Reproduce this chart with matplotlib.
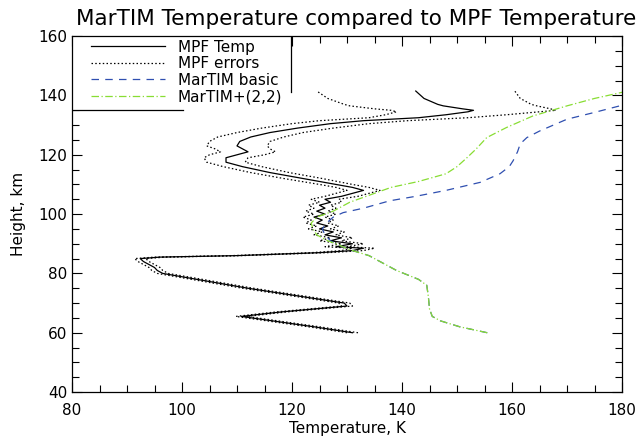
import numpy as np
import matplotlib
matplotlib.use("Agg")
import matplotlib.pyplot as plt
from matplotlib.patches import Rectangle
from matplotlib.lines import Line2D
from matplotlib.ticker import MultipleLocator

# MPF temperature profile (height km, temperature K) and its errors
mpf_h = [60.0, 62.0, 65.5, 67.0, 69.0, 70.0, 71.0, 75.0, 80.0, 81.0, 82.0, 83.0,
         84.0, 85.0, 85.5, 86.0, 87.0, 87.7, 88.5, 89.0, 90.0, 91.0, 92.0, 93.0,
         94.0, 95.0, 96.0, 97.0, 98.0, 99.0, 100.0, 101.0, 102.0, 103.0, 104.0,
         105.0, 106.0, 107.0, 108.0, 109.0, 110.0, 112.0, 114.0, 116.0, 117.5,
         119.0, 120.0, 121.0, 122.0, 123.0, 124.5, 126.0, 127.5, 129.0, 130.5,
         131.5, 132.5, 133.5, 134.5, 135.0, 135.5, 136.5, 137.0, 139.0, 141.5]
mpf_t = [131.0, 124.0, 110.8, 118.0, 130.0, 129.5, 126.0, 112.0, 96.5, 95.5, 95.0, 94.0,
         93.0, 92.4, 96.0, 110.0, 125.0, 131.0, 133.0, 128.0, 131.0, 127.0, 129.0, 126.0,
         127.5, 125.0, 126.5, 124.5, 125.5, 124.0, 126.0, 124.5, 126.0, 125.0, 127.0,
         126.0, 129.0, 131.0, 133.0, 131.0, 128.0, 122.0, 116.0, 111.0, 108.0,
         108.0, 110.0, 112.0, 111.0, 110.0, 110.5, 112.5, 116.0, 121.0, 127.0,
         133.0, 143.0, 148.0, 152.0, 153.0, 151.0, 147.5, 146.5, 144.0, 142.5]
mpf_err = [1.0, 1.0, 1.0, 1.0, 1.0, 1.0, 1.0, 1.0, 1.0, 1.0, 1.0, 1.0,
           1.0, 1.0, 1.0, 1.0, 1.5, 2.0, 2.0, 2.0, 2.0, 2.0, 2.0, 2.0,
           2.0, 2.0, 2.0, 2.0, 2.0, 2.0, 2.0, 2.0, 2.0, 2.0, 2.0,
           2.5, 3.0, 3.0, 3.0, 3.0, 3.0, 3.5, 3.5, 3.5, 3.5,
           4.0, 5.0, 5.0, 5.0, 5.5, 5.5, 6.0, 6.0, 6.5, 7.0,
           8.0, 9.0, 11.0, 13.0, 15.0, 16.0, 17.0, 17.0, 17.5, 18.0]

# MarTIM basic model
basic_h = [60.0, 62.0, 64.0, 65.5, 68.0, 72.0, 76.0, 78.0, 81.0, 84.0, 86.0, 88.0,
           90.0, 91.0, 93.0, 95.0, 97.0, 99.0, 100.5, 102.0, 104.5, 106.0, 108.0,
           110.7, 113.6, 116.0, 118.0, 121.0, 123.7, 125.8, 128.0, 130.0, 132.0,
           134.2, 136.5, 137.2]
basic_t = [155.5, 150.5, 147.0, 145.5, 145.0, 144.8, 144.5, 143.0, 139.0, 136.0, 134.0, 130.5,
           128.0, 127.0, 126.0, 125.5, 126.3, 127.5, 129.3, 133.0, 137.8, 142.5, 148.0,
           154.2, 157.8, 159.5, 160.2, 161.0, 161.5, 162.7, 165.0, 167.5, 170.0,
           174.8, 179.6, 181.0]

# MarTIM+(2,2) model
plus_h = [60.0, 62.0, 64.0, 65.5, 68.0, 72.0, 76.0, 78.0, 81.0, 84.0, 86.0, 88.0,
          90.0, 91.0, 93.0, 95.0, 97.0, 99.0, 101.0, 104.0, 107.0, 109.0, 111.0,
          113.6, 116.0, 119.0, 122.0, 125.8, 129.2, 133.1, 136.5, 139.0, 140.9, 141.5]
plus_t = [155.5, 150.5, 147.0, 145.5, 145.0, 144.8, 144.5, 143.0, 139.0, 136.0, 134.0, 130.5,
          128.0, 126.5, 124.5, 123.8, 123.5, 124.5, 127.5, 130.5, 135.0, 138.0, 143.0,
          148.0, 150.0, 151.8, 153.5, 155.4, 159.0, 163.8, 170.0, 175.0, 179.6, 181.0]

mpf_h = np.array(mpf_h)
mpf_t = np.array(mpf_t)
mpf_err = np.array(mpf_err)

fig = plt.figure(figsize=(6.4, 4.41), dpi=100)
ax = fig.add_axes([0.1125, 0.111, 0.8594, 0.807])

ax.plot(mpf_t, mpf_h, color="black", lw=0.9, label="MPF Temp")
ax.plot(mpf_t - mpf_err, mpf_h, color="black", lw=0.9, ls=(0, (1.2, 1.8)), label="MPF errors")
ax.plot(mpf_t + mpf_err, mpf_h, color="black", lw=0.9, ls=(0, (1.2, 1.8)))
ax.plot(basic_t, basic_h, color="#2f4fb0", lw=0.9, ls=(0, (6, 5)), label="MarTIM basic")
ax.plot(plus_t, plus_h, color="#88dd33", lw=0.9, ls=(0, (6, 2, 1, 2)), label="MarTIM+(2,2)")

ax.set_xlim(80, 180)
ax.set_ylim(40, 160)
ax.xaxis.set_major_locator(MultipleLocator(20))
ax.xaxis.set_minor_locator(MultipleLocator(5))
ax.yaxis.set_major_locator(MultipleLocator(20))
ax.yaxis.set_minor_locator(MultipleLocator(5))
ax.tick_params(which="both", direction="in", top=True, right=True, width=0.8, labelsize=11)
ax.tick_params(which="major", length=7)
ax.tick_params(which="minor", length=5)
ax.tick_params(axis="x", pad=8)
for s in ax.spines.values():
    s.set_linewidth(0.9)
    s.set_zorder(6)

ax.set_xlabel("Temperature, K", fontsize=11, labelpad=2)
ax.set_ylabel("Height, km", fontsize=11, labelpad=9)
ax.set_title("MarTIM Temperature compared to MPF Temperature", fontsize=15.5, pad=8, x=0.516)

# legend area: white box hiding ticks, with the odd partial border
ax.add_patch(Rectangle((0, 0.843), 0.398, 0.157, transform=ax.transAxes,
                       facecolor="white", edgecolor="none", zorder=4))
ax.add_patch(Rectangle((0, 0.792), 0.2018, 0.06, transform=ax.transAxes,
                       facecolor="white", edgecolor="none", zorder=4))
ax.add_line(Line2D([0.398, 0.398], [0.843, 1.0], transform=ax.transAxes, color="black", lw=0.9, zorder=6))
ax.add_line(Line2D([0.0, 0.2018], [0.792, 0.792], transform=ax.transAxes, color="black", lw=0.9, zorder=6))

leg = ax.legend(loc="upper left", bbox_to_anchor=(0.016, 1.02), frameon=False, fontsize=11,
                handlelength=4.8, handletextpad=0.85, labelspacing=0.1, borderpad=0.2)
leg.set_zorder(7)

fig.savefig("out.png", dpi=100)
